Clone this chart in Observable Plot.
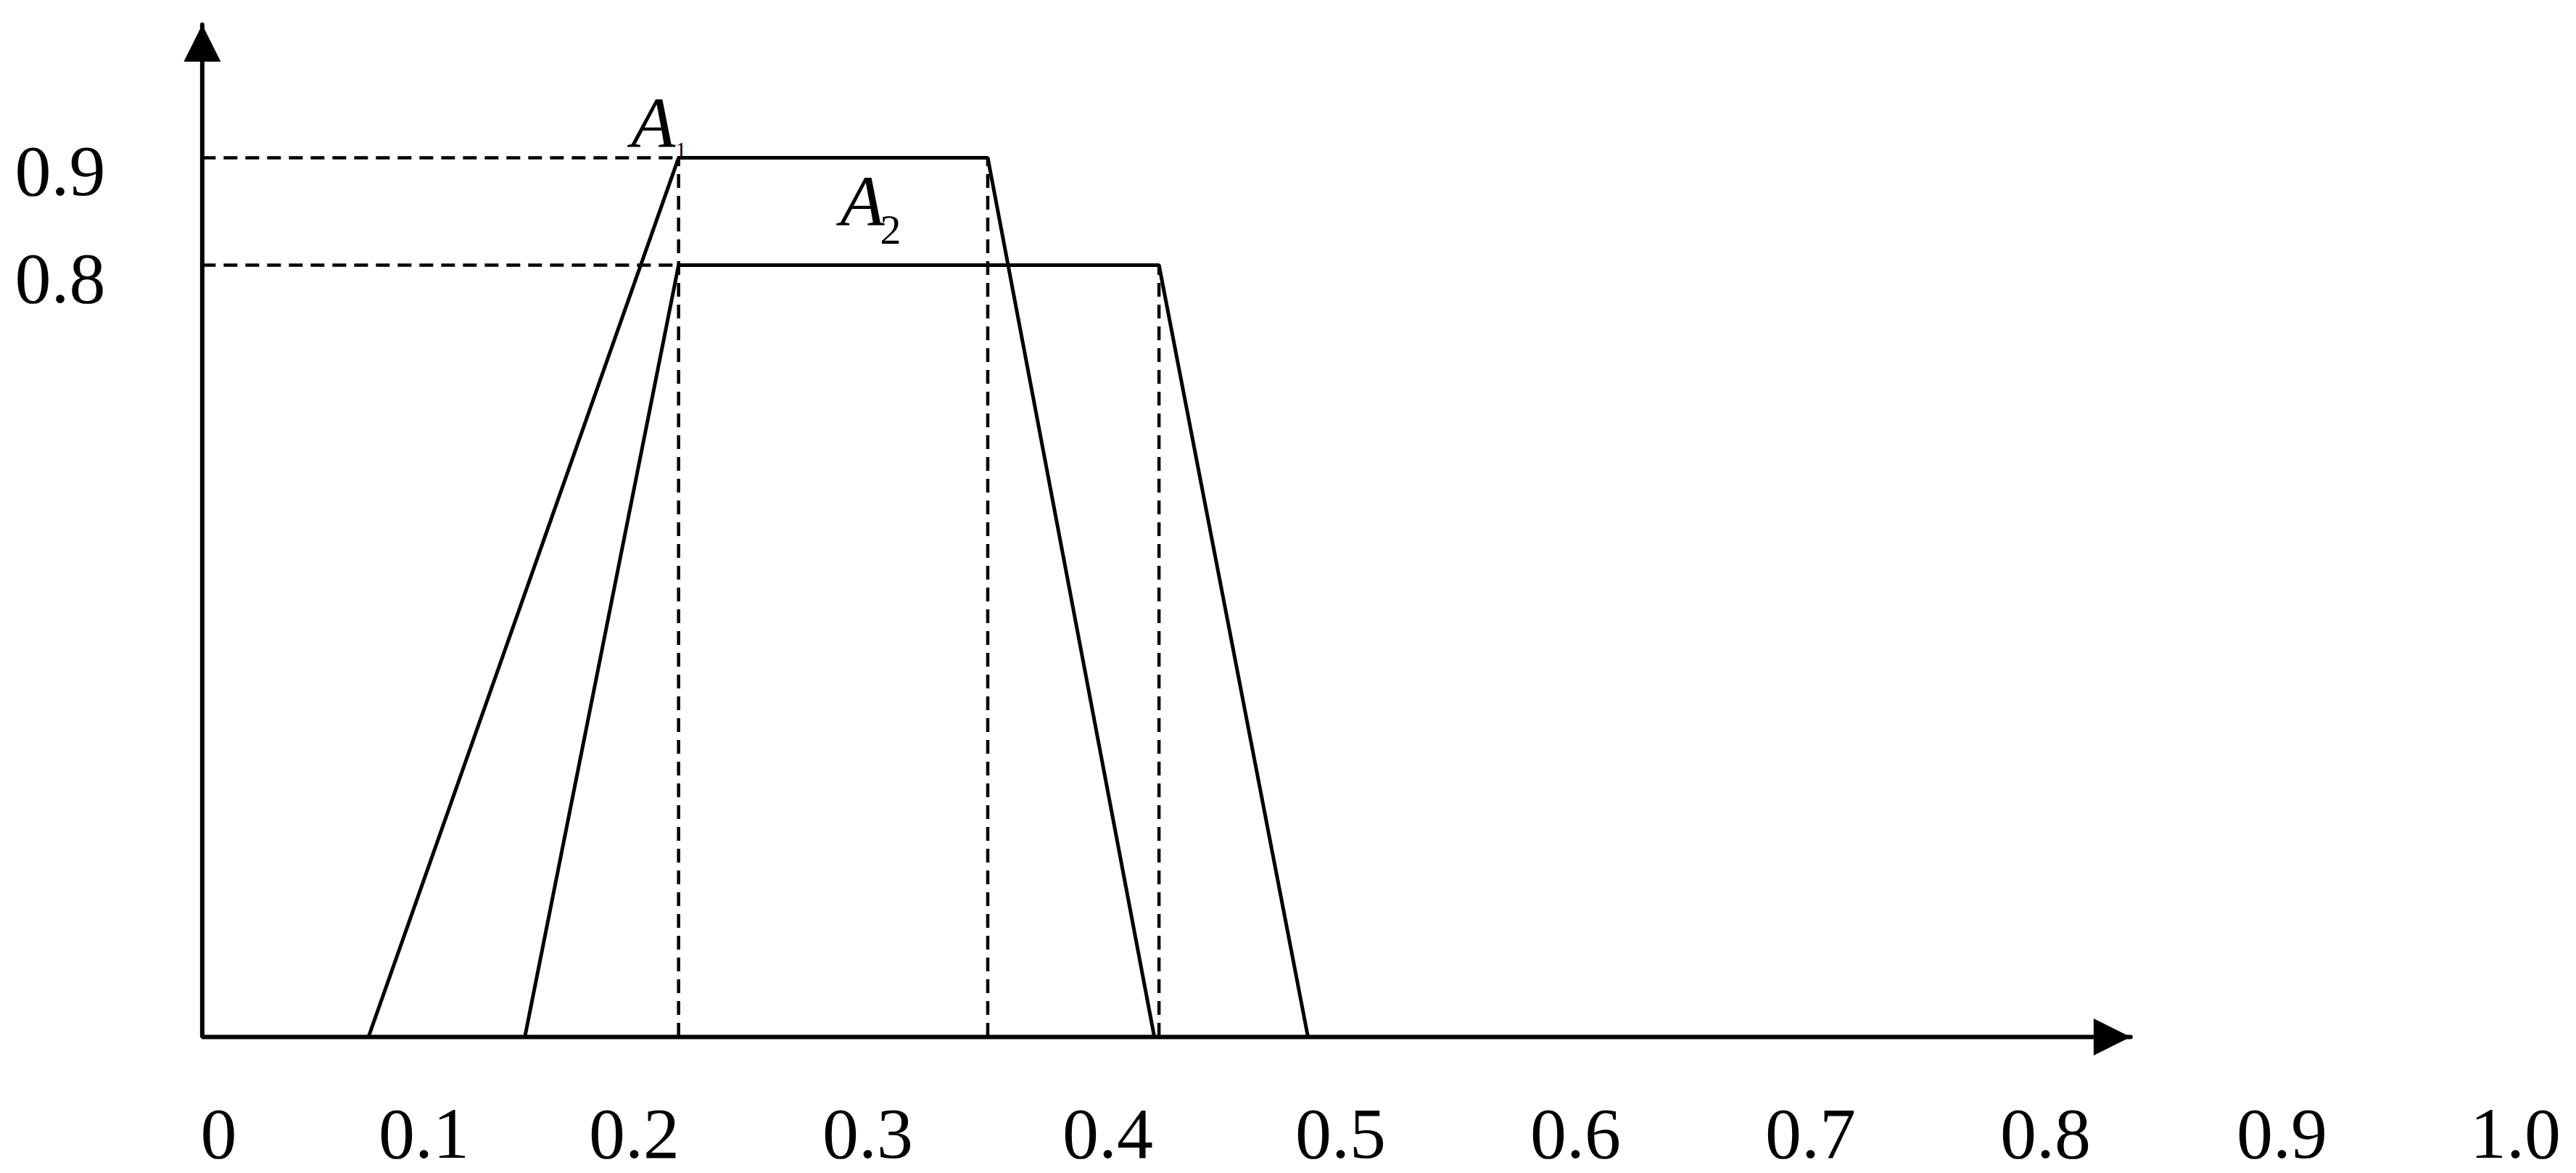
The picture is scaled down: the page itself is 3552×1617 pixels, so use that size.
<!DOCTYPE html>
<html>
<head>
<meta charset="utf-8">
<script src="https://cdn.jsdelivr.net/npm/d3@7"></script>
<script src="https://cdn.jsdelivr.net/npm/@observablehq/plot@0.6"></script>
<style>
  html, body { margin: 0; padding: 0; background: #fff; }
</style>
</head>
<body>
<div id="chart"></div>
<script>
// ---- data ----
const xTickValues = [0, 0.1, 0.2, 0.3, 0.4, 0.5, 0.6, 0.7, 0.8, 0.9, 1.0];
const yTickValues = [0.8, 0.9];

// trapezoid A1
const a1X = [0.073, 0.219, 0.350, 0.420];
const a1Y = [0, 0.9, 0.9, 0];
// trapezoid A2
const a2X = [0.148, 0.219, 0.422, 0.486];
const a2Y = [0, 0.8, 0.8, 0];

// dashed guide lines
const guideLevels = [0.9, 0.8];          // horizontal guides at these memberships
const guideLevelEnds = [0.219, 0.219];   // ... running to these x values
const guideVerticalX = [0.219, 0.350, 0.422];
const guideVerticalTop = [0.9, 0.9, 0.8];

// axes extents
const axisOrigin = -0.008;
const xAxisEnd = 0.836;
const yAxisEnd = 1.024;

// labels
const labelNames = ["A", "A"];
const labelX = [0.1985, 0.2882];
const labelY = [0.910, 0.837];
const sub1 = {text: "1", x: 0.2177, y: 0.9012};
const sub2 = {text: "2", x: 0.3051, y: 0.8196};

// ---- build tables ----
const trapRows = [
  ...a1X.map((x, i) => ({set: "A1", x, y: a1Y[i]})),
  ...a2X.map((x, i) => ({set: "A2", x, y: a2Y[i]}))
];
const hRows = guideLevels.map((y, i) => ({y, x2: guideLevelEnds[i]}));
const vRows = guideVerticalX.map((x, i) => ({x, y2: guideVerticalTop[i]}));
const axisRows = [
  {x: axisOrigin, y: yAxisEnd},
  {x: axisOrigin, y: 0},
  {x: xAxisEnd, y: 0}
];
const labelRows = labelNames.map((t, i) => ({t, x: labelX[i], y: labelY[i]}));

// arrowhead symbol: tip at origin, pointing up, base width == height == r
const arrowHead = {
  draw(context, size) {
    const r = Math.sqrt(size / Math.PI);
    context.moveTo(0, 0);
    context.lineTo(r / 2, r);
    context.lineTo(-r / 2, r);
    context.closePath();
  }
};

const serif = "'Liberation Serif', 'Times New Roman', Times, serif";

const chart = Plot.plot({
  width: 3552,
  height: 1617,
  marginLeft: 278,
  marginBottom: 188,
  marginTop: 0,
  marginRight: 0,
  style: {background: "#fff", fontFamily: serif, color: "#000"},
  x: {type: "linear", domain: xTickValues,
      range: [301, 584, 874, 1196, 1527, 1848, 2172, 2496, 2820, 3146, 3468]},
  y: {type: "linear", domain: [0, 0.8, 0.9], range: [1429, 365, 217]},
  marks: [
    Plot.ruleY(hRows, {y: "y", x1: axisOrigin, x2: "x2", stroke: "#000", strokeWidth: 4.5, strokeDasharray: "19,11"}),
    Plot.ruleX(vRows, {x: "x", y1: 0, y2: "y2", stroke: "#000", strokeWidth: 4.5, strokeDasharray: "19,11"}),
    Plot.line(trapRows, {x: "x", y: "y", z: "set", stroke: "#000", strokeWidth: 5, strokeLinejoin: "miter"}),
    Plot.line(axisRows, {x: "x", y: "y", stroke: "#000", strokeWidth: 6, strokeLinejoin: "miter"}),
    Plot.dot([{x: axisOrigin, y: yAxisEnd}], {x: "x", y: "y", symbol: arrowHead, r: 51, fill: "#000", stroke: "none"}),
    Plot.dot([{x: xAxisEnd, y: 0}], {x: "x", y: "y", symbol: arrowHead, r: 51, rotate: 90, fill: "#000", stroke: "none"}),
    Plot.axisX({ticks: xTickValues, anchor: "bottom", tickSize: 0, tickPadding: 95, fontSize: 100,
                tickFormat: d => d === 0 ? "0" : d.toFixed(1), label: null, fill: "#000"}),
    Plot.axisY({ticks: yTickValues, anchor: "left", tickSize: 0, tickPadding: 133, dy: 19, fontSize: 100,
                tickFormat: d => d.toFixed(1), label: null, fill: "#000"}),
    Plot.text(labelRows, {x: "x", y: "y", text: "t", fontStyle: "italic", fontSize: 100,
                textAnchor: "start", lineAnchor: "bottom", fill: "#000"}),
    Plot.text([sub1], {x: "x", y: "y", text: "text", fontSize: 30, textAnchor: "start", lineAnchor: "bottom", fill: "#000"}),
    Plot.text([sub2], {x: "x", y: "y", text: "text", fontSize: 58, textAnchor: "start", lineAnchor: "bottom", fill: "#000"})
  ]
});
document.getElementById("chart").appendChild(chart);
</script>
</body>
</html>
